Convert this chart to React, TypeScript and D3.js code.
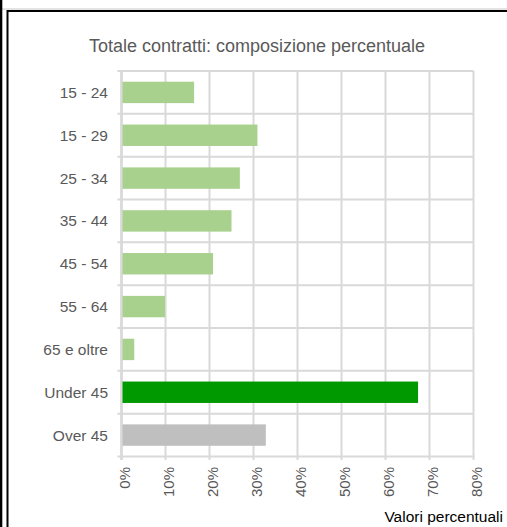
import React from "react";
import * as d3 from "d3";

const categories = ["15 - 24", "15 - 29", "25 - 34", "35 - 44", "45 - 54", "55 - 64", "65 e oltre", "Under 45", "Over 45"];
const values = [16.5, 30.9, 26.9, 25.0, 20.8, 9.9, 2.9, 67.4, 32.8];
const barColors = ["#a9d18e", "#a9d18e", "#a9d18e", "#a9d18e", "#a9d18e", "#a9d18e", "#a9d18e", "#009900", "#bfbfbf"];
const xTicks = [0, 10, 20, 30, 40, 50, 60, 70, 80];
const title = "Totale contratti: composizione percentuale";
const xTitle = "Valori percentuali";

export default function App() {
  const W = 507, H = 527;
  const left = 121.5, right = 473.5, top = 71, bottom = 456.5;
  const x = d3.scaleLinear().domain([0, 80]).range([left, right]);
  const y = d3.scaleBand<string>().domain(categories).range([top, bottom]).paddingInner(0.5).paddingOuter(0.25);
  const yBand = d3.scaleBand<string>().domain(categories).range([top, bottom]);
  const font = "'Liberation Sans', Arial, sans-serif";
  const grid = "#d9d9d9";
  return (
    <svg width={W} height={H} style={{ position: "absolute", left: 0, top: 0 }} fontFamily={font}>
      <rect x={0} y={0} width={W} height={H} fill="#fff" />
      <line x1={0} x2={W} y1={9} y2={9} stroke="#c8c8c8" strokeWidth={1} />
      <rect x={0} y={0} width={2.3} height={H} fill="#000" />
      <rect x={7.5} y={11} width={W} height={H} fill="none" stroke="#000" strokeWidth={2} />
      <text x={257} y={52} textAnchor="middle" fontSize={18} fill="#595959">{title}</text>
      {xTicks.map((t) => (
        <line key={"g" + t} x1={x(t)} x2={x(t)} y1={top} y2={bottom + 3.5} stroke={grid} strokeWidth={2} />
      ))}
      {categories.map((c) => (
        <line key={"h" + c} x1={left - 4} x2={right} y1={yBand(c)!} y2={yBand(c)!} stroke={grid} strokeWidth={2} />
      ))}
      <line x1={left - 4} x2={right + 1} y1={bottom} y2={bottom} stroke={grid} strokeWidth={2} />
      <line x1={left} x2={left} y1={top - 1} y2={bottom + 3.5} stroke={grid} strokeWidth={2.5} />
      {categories.map((c, i) => (
        <rect key={"b" + c} x={x(0) + 1} y={y(c)!} width={x(values[i]) - x(0) - 1} height={y.bandwidth()} fill={barColors[i]} />
      ))}
      {categories.map((c) => (
        <text key={"l" + c} x={108} y={yBand(c)! + yBand.bandwidth() / 2} dy="0.36em" textAnchor="end" fontSize={15.5} fill="#595959">{c}</text>
      ))}
      {xTicks.map((t) => (
        <text key={"t" + t} transform={`translate(${x(t) + 8},${467}) rotate(-90)`} textAnchor="end" fontSize={15} fill="#595959">{t + "%"}</text>
      ))}
      <text x={503} y={522} textAnchor="end" fontSize={15.5} fill="#000">{xTitle}</text>
    </svg>
  );
}
